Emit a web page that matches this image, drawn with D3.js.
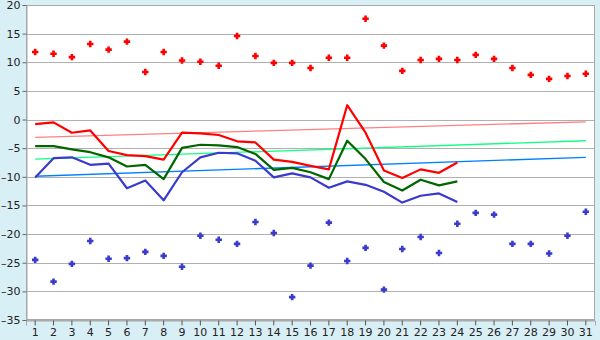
<!DOCTYPE html>
<html>
<head>
<meta charset="utf-8">
<script src="https://cdn.jsdelivr.net/npm/d3@7/dist/d3.min.js"></script>
<style>
  html, body { margin: 0; padding: 0; background: #d9eff6; }
  svg { display: block; }
  text { font-family: "DejaVu Sans", Verdana, sans-serif; font-size: 10px; fill: #222; }
</style>
</head>
<body>
<svg id="chart" width="600" height="340"></svg>
<script>
// Days of the month
const days = d3.range(1, 32);

// Daily extremes (scatter points)
const maxPoints = [11.8, 11.5, 10.9, 13.2, 12.2, 13.6, 8.3, 11.8, 10.3, 10.1,
  9.4, 14.6, 11.1, 9.9, 9.9, 9.0, 10.8, 10.8, 17.6, 12.9,
  8.5, 10.4, 10.6, 10.4, 11.3, 10.6, 9.0, 7.8, 7.1, 7.6, 8.0];
const minPoints = [-24.5, -28.3, -25.2, -21.2, -24.3, -24.2, -23.1, -23.8, -25.7, -20.3,
  -21.0, -21.7, -17.9, -19.8, -31.0, -25.5, -18.0, -24.7, -22.4, -29.7,
  -22.6, -20.5, -23.3, -18.2, -16.3, -16.6, -21.7, -21.7, -23.4, -20.3, -16.1];

// Daily series for days 1..24
const highSeries = [-0.8, -0.5, -2.3, -1.9, -5.5, -6.2, -6.4, -7.0, -2.3, -2.4,
  -2.7, -3.8, -4.0, -7.0, -7.4, -8.1, -8.7, 2.5, -2.3, -8.9,
  -10.2, -8.7, -9.3, -7.5];
const meanSeries = [-4.65, -4.65, -5.2, -5.7, -6.6, -8.2, -7.9, -10.4, -4.95, -4.4,
  -4.5, -4.8, -6.0, -8.8, -8.45, -9.2, -10.4, -3.7, -6.9, -10.9,
  -12.4, -10.5, -11.5, -10.8];
const lowSeries = [-10.1, -6.75, -6.6, -7.9, -7.7, -12.0, -10.65, -14.1, -9.2, -6.6,
  -5.8, -5.9, -7.2, -10.1, -9.4, -10.1, -11.9, -10.8, -11.4, -12.6,
  -14.5, -13.3, -12.9, -14.4];

// Long-term reference lines (value on day 1 and day 31)
const trendDays = [1, 31];
const highTrend = [-3.1, -0.4];
const meanTrend = [-6.9, -3.7];
const lowTrend = [-9.9, -6.6];

// Y axis ticks
const yTicks = d3.range(-35, 21, 5);

const svg = d3.select("#chart");
const margin = { left: 26, right: 5, top: 5, bottom: 20 };
const W = 600, H = 340;

const x = d3.scaleBand()
  .domain(days)
  .range([margin.left, W - margin.right])
  .paddingInner(0).paddingOuter(0);
const xc = d => x(d) + x.bandwidth() / 2;

const y = d3.scaleLinear()
  .domain([-35, 20])
  .range([H - margin.bottom, margin.top]);

// Plot area
svg.append("rect")
  .attr("x", margin.left).attr("y", margin.top)
  .attr("width", W - margin.left - margin.right)
  .attr("height", H - margin.top - margin.bottom)
  .attr("fill", "#ffffff");

// Horizontal grid
svg.append("g")
  .selectAll("line")
  .data(yTicks)
  .join("line")
  .attr("x1", margin.left).attr("x2", W - margin.right)
  .attr("y1", d => Math.round(y(d)) + 0.5).attr("y2", d => Math.round(y(d)) + 0.5)
  .attr("stroke", "#b0b0b0").attr("stroke-width", 1);

// Plot frame
svg.append("rect")
  .attr("x", margin.left + 0.5).attr("y", margin.top + 0.5)
  .attr("width", W - margin.left - margin.right - 1)
  .attr("height", H - margin.top - margin.bottom - 1)
  .attr("fill", "none").attr("stroke", "#a8a8a8");

// Y axis
const yAxis = svg.append("g")
  .attr("transform", `translate(${margin.left + 0.5},0)`)
  .call(d3.axisLeft(y).tickValues(yTicks).tickSize(4).tickPadding(2)
    .tickFormat(d => d < 0 ? "\u2013" + Math.abs(d) : d));
yAxis.select(".domain").attr("stroke", "#a8a8a8");
yAxis.selectAll(".tick line").attr("stroke", "#666");
yAxis.selectAll("text").style("font-size", "11px").attr("fill", "#222");

// X axis
const xAxis = svg.append("g")
  .attr("transform", `translate(0,${H - margin.bottom + 0.5})`)
  .call(d3.axisBottom(x).tickSize(5).tickPadding(3));
xAxis.select(".domain").attr("stroke", "#a8a8a8");
xAxis.selectAll(".tick line").attr("stroke", "#555");
xAxis.selectAll("text").style("font-size", "11px").attr("fill", "#222");

// Reference trend lines
const trendLine = d3.line().x((d, i) => xc(trendDays[i])).y(d => y(d));
[[highTrend, "#ff8080"], [meanTrend, "#10ff80"], [lowTrend, "#0080ff"]].forEach(([vals, col]) => {
  svg.append("path")
    .attr("d", trendLine(vals))
    .attr("fill", "none").attr("stroke", col).attr("stroke-width", 1.3);
});

// Daily series lines
const seriesLine = d3.line().x((d, i) => xc(days[i])).y(d => y(d));
[[lowSeries, "#3a3acc"], [meanSeries, "#006600"], [highSeries, "#ff0000"]].forEach(([vals, col]) => {
  svg.append("path")
    .attr("d", seriesLine(vals))
    .attr("fill", "none").attr("stroke", col).attr("stroke-width", 2.2)
    .attr("stroke-linejoin", "round");
});

// Extreme points: small plus markers
const markerPath = "M-1.3,-3.2H1.3V-1.3H3.2V1.3H1.3V3.2H-1.3V1.3H-3.2V-1.3H-1.3Z";
[[maxPoints, "#ff0000"], [minPoints, "#3a3acc"]].forEach(([vals, col]) => {
  svg.append("g")
    .selectAll("path")
    .data(vals)
    .join("path")
    .attr("transform", (d, i) => `translate(${xc(days[i])},${y(d)})`)
    .attr("d", markerPath)
    .attr("fill", col);
});
</script>
</body>
</html>
